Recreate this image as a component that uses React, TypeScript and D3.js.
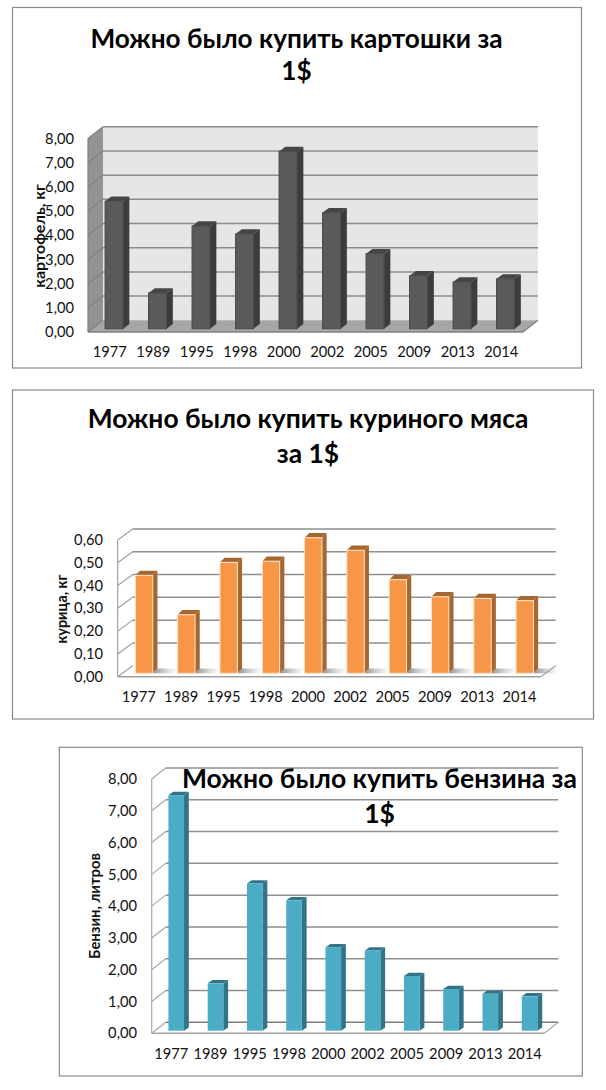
import React from 'react';
import * as d3 from 'd3';

const years = ['1977', '1989', '1995', '1998', '2000', '2002', '2005', '2009', '2013', '2014'];

const potatoValues = [5.27, 1.48, 4.25, 3.92, 7.33, 4.8, 3.1, 2.19, 1.93, 2.06];
const chickenValues = [0.43, 0.257, 0.487, 0.492, 0.595, 0.54, 0.411, 0.336, 0.329, 0.319];
const petrolValues = [7.41, 1.49, 4.63, 4.1, 2.62, 2.52, 1.72, 1.31, 1.16, 1.08];

const potatoTicks = [0, 1, 2, 3, 4, 5, 6, 7, 8];
const chickenTicks = [0, 0.1, 0.2, 0.3, 0.4, 0.5, 0.6];
const petrolTicks = [0, 1, 2, 3, 4, 5, 6, 7, 8];

const FONT = 'Lato, "Noto Sans", sans-serif';
const TITLE_FONT = 'Lato, "Noto Sans", sans-serif';

// comma decimals, as in the original labels
const fmt = d3.formatLocale({ decimal: ',', thousands: ' ', grouping: [3], currency: ['', ''] }).format('.2f');
const path = d3.line();

interface ChartProps {
  id: string;
  values: number[];
  ticks: number[];
  yLabel: string;
  yLabelSize: number;
  title: string[];
  frame: [number, number, number, number];
  axis: { left: number; right: number; bottom: number; top: number };
  back: [number, number];
  bar: { width: number; dx: number; dy: number; sideX: number; sideY: number };
  titlePos: { x: number; y: number; size: number; gap: number };
  yLabelPos: [number, number];
  labelRight: number;
  xLabelY: number;
  floorShadow?: boolean;
  colors: { front: string; side: string; top: string; stroke: string; wall?: string; leftWall?: string; floor?: string; grid: string; edge: string; floorBack?: string };
}

const Chart: React.FC<ChartProps> = (p) => {
  const { axis, back, bar, colors } = p;
  const [bx, by] = back;
  const x = d3.scaleBand<string>().domain(years).range([axis.left, axis.right]);
  const y = d3.scaleLinear().domain([p.ticks[0], p.ticks[p.ticks.length - 1]]).range([axis.bottom, axis.top]);
  const top = y(p.ticks[p.ticks.length - 1]);
  const x0 = x.range()[0];
  const x1 = x.range()[1];
  const y0 = y(0);

  return (
    <g>
      <defs>
        <linearGradient id={`${p.id}-shadow`}>
          <stop offset="0%" stopColor="#777" stopOpacity={0.85} />
          <stop offset="100%" stopColor="#bbb" stopOpacity={0.05} />
        </linearGradient>
      </defs>
      <rect x={p.frame[0]} y={p.frame[1]} width={p.frame[2] - p.frame[0]} height={p.frame[3] - p.frame[1]} fill="#fff" stroke="#8a8a8a" strokeWidth={1.2} />

      {colors.wall && <rect x={x0 + bx} y={top + by} width={x1 - x0} height={y0 - top} fill={colors.wall} />}
      {colors.leftWall && (
        <path d={path([[x0, top], [x0 + bx, top + by], [x0 + bx, y0 + by], [x0, y0]])!} fill={colors.leftWall} />
      )}
      {colors.floor && <path d={path([[x0, y0], [x0 + bx, y0 + by], [x1 + bx, y0 + by], [x1, y0]])! + 'Z'} fill={colors.floor} />}

      {/* gridlines, back wall and the slanted part on the left wall */}
      {p.ticks.map((t) => (
        <g key={t} fill="none">
          <path d={path([[x0, y(t)], [x0 + bx, y(t) + by]])!} stroke={colors.edge} strokeWidth={1.2} />
          {t !== 0 && <line x1={x0 + bx} x2={x1 + bx} y1={y(t) + by} y2={y(t) + by} stroke={colors.grid} strokeWidth={1.5} />}
        </g>
      ))}
      {colors.floorBack && <line x1={x0 + bx} x2={x1 + bx} y1={y0 + by} y2={y0 + by} stroke={colors.floorBack} strokeWidth={1.5} />}
      <path d={path([[x1, y0], [x1 + bx, y0 + by]])!} fill="none" stroke={colors.edge} strokeWidth={1.2} />
      <line x1={x0} x2={x0} y1={top} y2={y0} stroke={colors.edge} strokeWidth={1.2} />
      <line x1={x0} x2={x1} y1={y0} y2={y0} stroke={colors.edge} strokeWidth={1.4} />

      {p.values.map((v, i) => {
        const left = x(years[i])! + x.bandwidth() / 2 + bar.dx - bar.width / 2;
        const right = left + bar.width;
        const base = y0 + bar.dy;
        const h = y(v) + bar.dy;
        return (
          <g key={years[i]}>
            {p.floorShadow && (
              <path
                d={path([[right, base], [right + bar.sideX, base - bar.sideY], [right + x.bandwidth() - bar.width, base - bar.sideY], [right + x.bandwidth() - bar.width - 4, base]])! + 'Z'}
                fill={`url(#${p.id}-shadow)`}
              />
            )}
            <path d={path([[left, h], [left + bar.sideX, h - bar.sideY], [right + bar.sideX, h - bar.sideY], [right, h]])! + 'Z'} fill={colors.top} />
            <path d={path([[right, h], [right + bar.sideX, h - bar.sideY], [right + bar.sideX, base - bar.sideY], [right, base]])! + 'Z'} fill={colors.side} />
            <rect x={left} y={h} width={bar.width} height={base - h} fill={colors.front} stroke={colors.stroke} strokeWidth={1} />
          </g>
        );
      })}

      <g fontFamily={FONT} fontSize={14.7} fill="#111">
        {p.ticks.map((t) => (
          <text key={t} x={p.labelRight} y={y(t)} dy="0.35em" textAnchor="end">
            {fmt(t)}
          </text>
        ))}
        {years.map((c) => (
          <text key={c} x={x(c)! + x.bandwidth() / 2} y={p.xLabelY} dy="0.35em" textAnchor="middle">
            {c}
          </text>
        ))}
      </g>

      <text
        transform={`translate(${p.yLabelPos[0]},${p.yLabelPos[1]}) rotate(-90)`}
        textAnchor="middle"
        dy="0.35em"
        fontFamily={TITLE_FONT}
        fontWeight={700}
        fontSize={p.yLabelSize}
        fill="#111"
      >
        {p.yLabel}
      </text>

      <g fontFamily={TITLE_FONT} fontWeight={700} fontSize={p.titlePos.size} fill="#000" textAnchor="middle">
        {p.title.map((line, i) => (
          <text key={line} x={p.titlePos.x} y={p.titlePos.y + i * p.titlePos.gap}>
            {line}
          </text>
        ))}
      </g>
    </g>
  );
};

export default function App() {
  return (
    <svg width={606} height={1090} style={{ position: 'absolute', left: 0, top: 0, background: '#fff' }}>
      <Chart
        id="potato"
        values={potatoValues}
        ticks={potatoTicks}
        yLabel="картофель, кг"
        yLabelSize={16}
        title={['Можно было купить картошки за', '1$']}
        frame={[12.5, 7.5, 581.5, 368]}
        axis={{ left: 88, right: 523, bottom: 332, top: 138.5 }}
        back={[15, -11.7]}
        bar={{ width: 18, dx: 4.3, dy: -3.3, sideX: 6.3, sideY: 4.7 }}
        titlePos={{ x: 296.5, y: 48, size: 26.2, gap: 32 }}
        yLabelPos={[39, 236]}
        labelRight={74}
        xLabelY={352}
        colors={{ front: '#5a5a5a', side: '#3c3c3c', top: '#454545', stroke: '#4a4a4a', wall: '#e6e6e6', leftWall: '#939393', floor: '#a6a6a6', grid: '#8c8c8c', edge: '#808080' }}
      />
      <Chart
        id="chicken"
        values={chickenValues}
        ticks={chickenTicks}
        yLabel="курица, кг"
        yLabelSize={14.4}
        title={['Можно было купить куриного мяса', 'за 1$']}
        frame={[12.5, 390, 593.5, 719]}
        axis={{ left: 117.7, right: 540.7, bottom: 676.7, top: 540 }}
        back={[15, -11]}
        bar={{ width: 17.4, dx: 5.2, dy: -3.4, sideX: 4.7, sideY: 4.7 }}
        titlePos={{ x: 308, y: 428, size: 26.4, gap: 35 }}
        yLabelPos={[62, 609]}
        labelRight={103}
        xLabelY={697}
        floorShadow
        colors={{ front: '#f79646', side: '#a6662f', top: '#a6662f', stroke: '#fde3cc', grid: '#8f8f8f', edge: '#a0a0a0' }}
      />
      <Chart
        id="petrol"
        values={petrolValues}
        ticks={petrolTicks}
        yLabel="Бензин, литров"
        yLabelSize={14.8}
        title={['Можно было купить бензина за', '1$']}
        frame={[59.3, 747.3, 582.3, 1076]}
        axis={{ left: 151.7, right: 544.3, bottom: 1033.3, top: 779 }}
        back={[14, -11]}
        bar={{ width: 15.6, dx: 4.9, dy: -2.6, sideX: 4.8, sideY: 3.3 }}
        titlePos={{ x: 379.5, y: 788, size: 26.5, gap: 35 }}
        yLabelPos={[95, 906]}
        labelRight={137}
        xLabelY={1054}
        colors={{ front: '#4bacc6', side: '#31748a', top: '#31748a', stroke: 'none', grid: '#8f8f8f', edge: '#a8a8a8', floorBack: '#7c7c7c' }}
      />
    </svg>
  );
}
